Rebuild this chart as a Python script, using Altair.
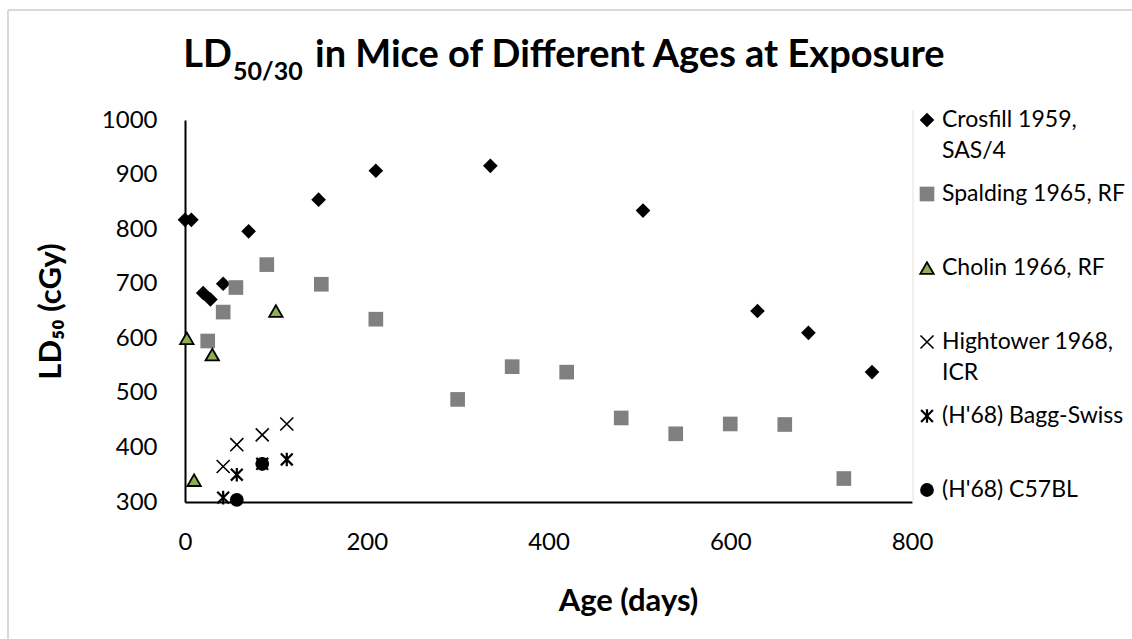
import altair as alt
import pandas as pd

# ---------------- data ----------------
series_names = [
    "Crosfill 1959, SAS/4",
    "Spalding 1965, RF",
    "Cholin 1966, RF",
    "Hightower 1968, ICR",
    "(H'68) Bagg-Swiss",
    "(H'68) C57BL",
]
legend_labels = [
    "Crosfill 1959,\nSAS/4",
    "Spalding 1965, RF",
    "Cholin 1966, RF",
    "Hightower 1968,\nICR",
    "(H'68) Bagg-Swiss",
    "(H'68) C57BL",
]

crosfill_age = [0, 7, 20, 28, 42, 70, 147, 210, 336, 504, 630, 686, 756]
crosfill_ld50 = [817, 817, 683, 671, 700, 796, 854, 907, 916, 834, 650, 610, 538]

spalding_age = [25, 42, 56, 90, 150, 210, 300, 360, 420, 480, 540, 600, 660, 725]
spalding_ld50 = [595, 648, 693, 735, 699, 635, 488, 548, 538, 454, 425, 443, 442, 343]

cholin_age = [2, 10, 30, 100]
cholin_ld50 = [600, 340, 570, 650]

hightower_age = [42, 57, 85, 112]
hightower_ld50 = [365, 405, 423, 443]

bagg_age = [42, 57, 85, 112]
bagg_ld50 = [308, 350, 370, 378]

c57_age = [57, 85]
c57_ld50 = [304, 370]

x_ticks = [0, 200, 400, 600, 800]
y_ticks = [300, 400, 500, 600, 700, 800, 900, 1000]

title_parts = ["LD", "50/30", "in Mice of Different Ages at Exposure"]
x_title = "Age (days)"
y_title = "LD\u2085\u2080 (cGy)"

# ---------------- tables ----------------
all_ages = [crosfill_age, spalding_age, cholin_age, hightower_age, bagg_age, c57_age]
all_vals = [crosfill_ld50, spalding_ld50, cholin_ld50, hightower_ld50, bagg_ld50, c57_ld50]
rows = []
for name, ages, vals in zip(series_names, all_ages, all_vals):
    for a, v in zip(ages, vals):
        rows.append({"series": name, "age": a, "ld50": v})
df = pd.DataFrame(rows)
leg_df = pd.DataFrame({"series": series_names, "label": legend_labels})
one = pd.DataFrame({"k": [0]})

X_PATH = "M-1,-1L1,1M-1,1L1,-1"
STAR_PATH = "M-1,-1L1,1M-1,1L1,-1M0,-1.15L0,1.15"

shape_enc = alt.Shape("series:N", legend=None, scale=alt.Scale(
    domain=series_names, range=["diamond", "square", "triangle-up", X_PATH, STAR_PATH, "circle"]))
fill_enc = alt.Fill("series:N", legend=None, scale=alt.Scale(
    domain=series_names, range=["#000000", "#808080", "#8fae56", "transparent", "transparent", "#000000"]))
stroke_enc = alt.Stroke("series:N", legend=None, scale=alt.Scale(
    domain=series_names, range=["#000000", "#808080", "#000000", "#000000", "#000000", "#000000"]))
sw_enc = alt.StrokeWidth("series:N", legend=None, scale=alt.Scale(
    type="ordinal", domain=series_names, range=[0, 0, 1.8, 1.6, 2.2, 0]))
size_enc = alt.Size("series:N", legend=None, scale=alt.Scale(
    type="ordinal", domain=series_names, range=[215, 215, 180, 170, 140, 190]))

FONT = "Lato"

points = alt.Chart(df).mark_point(filled=True, opacity=1).encode(
    x=alt.X("age:Q",
            scale=alt.Scale(domain=[0, 800], nice=False, zero=False),
            axis=alt.Axis(values=x_ticks, format="d", title=x_title, grid=False, ticks=False,
                          domainColor="#000000", domainWidth=2,
                          labelFont=FONT, labelFontSize=24, labelColor="#000000",
                          labelPadding=28, labelFlush=False,
                          titleFont=FONT, titleFontSize=31, titleFontWeight="bold",
                          titleColor="#000000", titleX=443, titleY=108,
                          titleBaseline="alphabetic")),
    y=alt.Y("ld50:Q",
            scale=alt.Scale(domain=[300, 1000], nice=False, zero=False),
            axis=alt.Axis(values=y_ticks, format="d", title=y_title, grid=False, ticks=False,
                          domainColor="#000000", domainWidth=2,
                          labelFont=FONT, labelFontSize=24, labelColor="#000000",
                          labelPadding=28, labelFlush=False,
                          titleFont=FONT, titleFontSize=31, titleFontWeight="bold",
                          titleColor="#000000", titlePadding=34)),
    shape=shape_enc, fill=fill_enc, stroke=stroke_enc, strokeWidth=sw_enc, size=size_enc,
)

leg_y = alt.Y("series:N", axis=None,
              scale=alt.Scale(type="point", domain=series_names, range=[0, 370], padding=0))

leg_pts = alt.Chart(leg_df).mark_point(filled=True, opacity=1).encode(
    x=alt.value(742), y=leg_y,
    shape=shape_enc, fill=fill_enc, stroke=stroke_enc, strokeWidth=sw_enc, size=size_enc,
)
leg_txt = alt.Chart(leg_df).mark_text(
    align="left", baseline="top", dy=-11, font=FONT, fontSize=23,
    lineBreak="\n", lineHeight=31, color="#000000",
).encode(x=alt.value(757), y=leg_y, text="label:N")

t1 = alt.Chart(one).mark_text(text=title_parts[0], font=FONT, fontWeight="bold", fontSize=38,
                              align="right", baseline="alphabetic", color="#000000").encode(
    x=alt.value(47), y=alt.value(-53))
t2 = alt.Chart(one).mark_text(text=title_parts[1], font=FONT, fontWeight="bold", fontSize=25,
                              align="left", baseline="alphabetic", color="#000000").encode(
    x=alt.value(48), y=alt.value(-40))
t3 = alt.Chart(one).mark_text(text=title_parts[2], font=FONT, fontWeight="bold", fontSize=38,
                              align="left", baseline="alphabetic", color="#000000").encode(
    x=alt.value(130), y=alt.value(-53))

border_left = alt.Chart(one).mark_rule(color="#d9d9d9", strokeWidth=2).encode(
    x=alt.value(-177), y=alt.value(-110), y2=alt.value(519))
border_top = alt.Chart(one).mark_rule(color="#d9d9d9", strokeWidth=2).encode(
    x=alt.value(-177), x2=alt.value(947), y=alt.value(-110))
plot_edge = alt.Chart(one).mark_rule(color="#eeebe0", strokeWidth=1.5).encode(
    x=alt.value(728), y=alt.value(-10), y2=alt.value(382))

chart = alt.layer(
    border_left, border_top, plot_edge, points, leg_pts, leg_txt, t1, t2, t3
).resolve_scale(y="independent").properties(
    width=727, height=382,
    autosize=alt.AutoSizeParams(type="none"),
    padding={"left": 185, "top": 120, "right": 220, "bottom": 137},
    background="white",
).configure_view(strokeWidth=0)

chart.save("out.html", embed_options={"renderer": "svg", "actions": False})
